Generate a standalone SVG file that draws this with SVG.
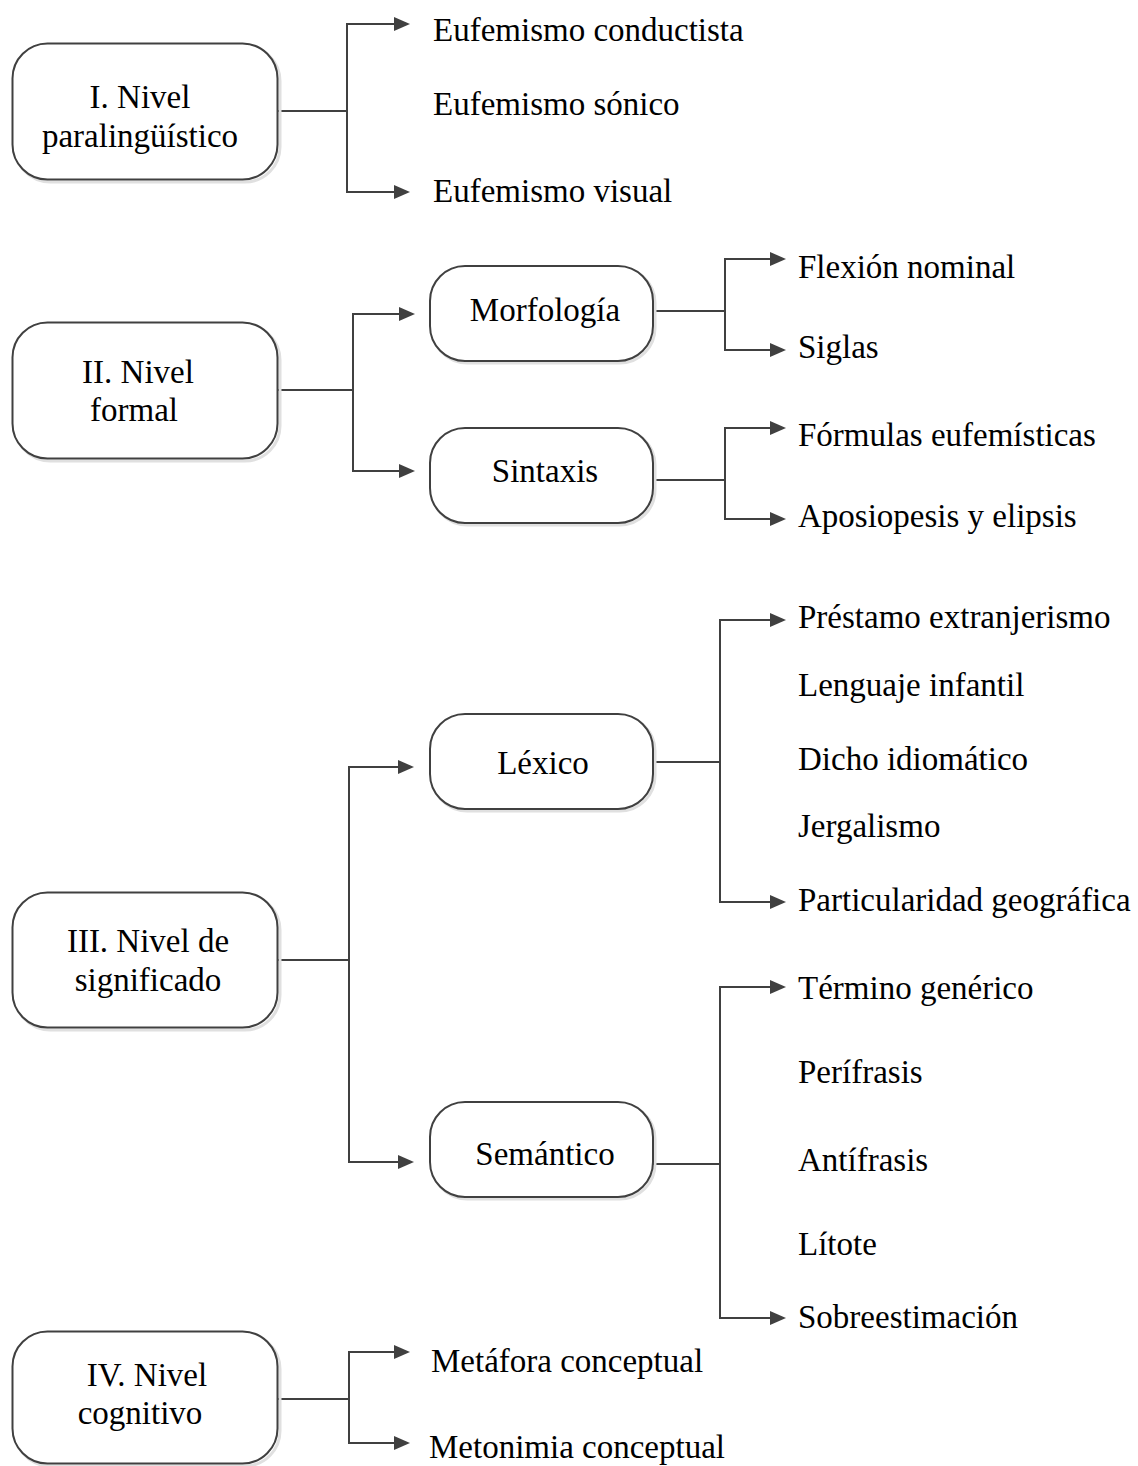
<svg xmlns="http://www.w3.org/2000/svg" width="1138" height="1466" viewBox="0 0 1138 1466">
  <style>
    .box { fill: #ffffff; stroke: #404040; stroke-width: 2; }
    .shadow { fill: none; stroke: #e0e0e0; stroke-width: 3; }
    .lbl { font-family: "Liberation Serif", "Times New Roman", serif; font-size: 33px; fill: #000000; }
    .mid { text-anchor: middle; }
    .wire { fill: none; stroke: #404040; stroke-width: 2; }
    .arrow { fill: none; stroke: #404040; stroke-width: 2; marker-end: url(#head); }
  </style>
  <defs>
    <marker id="head" viewBox="0 0 16 14" refX="8" refY="7" markerWidth="16" markerHeight="14" markerUnits="userSpaceOnUse" orient="auto">
      <path d="M0,0 L16,7 L0,14 z" fill="#404040"/>
    </marker>
  </defs>
  <rect width="1138" height="1466" fill="#ffffff"/>

  <!-- connectors -->
  <g id="connectors">
    <!-- I -->
    <path class="wire" d="M277,111 H347 M347,24 V192"/>
    <path class="arrow" d="M346,24 H402"/>
    <path class="arrow" d="M346,192 H402"/>
    <!-- II -->
    <path class="wire" d="M277,390 H353 M353,314 V471"/>
    <path class="arrow" d="M352,314 H407"/>
    <path class="arrow" d="M352,471 H407"/>
    <!-- Morfología -->
    <path class="wire" d="M653,311 H725 M725,259 V350"/>
    <path class="arrow" d="M724,259 H778"/>
    <path class="arrow" d="M724,350 H778"/>
    <!-- Sintaxis -->
    <path class="wire" d="M653,480 H725 M725,428 V519"/>
    <path class="arrow" d="M724,428 H778"/>
    <path class="arrow" d="M724,519 H778"/>
    <!-- III -->
    <path class="wire" d="M277,960 H349 M349,767 V1162"/>
    <path class="arrow" d="M348,767 H406"/>
    <path class="arrow" d="M348,1162 H406"/>
    <!-- Léxico -->
    <path class="wire" d="M653,762 H720 M720,620 V902"/>
    <path class="arrow" d="M719,620 H778"/>
    <path class="arrow" d="M719,902 H778"/>
    <!-- Semántico -->
    <path class="wire" d="M653,1164 H720 M720,987 V1318"/>
    <path class="arrow" d="M719,987 H778"/>
    <path class="arrow" d="M719,1318 H778"/>
    <!-- IV -->
    <path class="wire" d="M277,1399 H349 M349,1352 V1443"/>
    <path class="arrow" d="M348,1352 H402"/>
    <path class="arrow" d="M348,1443 H402"/>
  </g>

  <!-- level nodes -->
  <g id="nivel-1">
    <rect class="shadow" x="15" y="46" width="265" height="136" rx="35"/>
    <rect class="box" x="12.5" y="43.5" width="265" height="136" rx="35"/>
    <text class="lbl mid" x="140" y="108">I. Nivel</text>
    <text class="lbl mid" x="140" y="147">paralingüístico</text>
  </g>
  <g id="nivel-2">
    <rect class="shadow" x="15" y="325" width="265" height="136" rx="35"/>
    <rect class="box" x="12.5" y="322.5" width="265" height="136" rx="35"/>
    <text class="lbl mid" x="138" y="383">II. Nivel</text>
    <text class="lbl mid" x="134" y="421">formal</text>
  </g>
  <g id="nivel-3">
    <rect class="shadow" x="15" y="895" width="265" height="135" rx="35"/>
    <rect class="box" x="12.5" y="892.5" width="265" height="135" rx="35"/>
    <text class="lbl mid" x="148" y="952">III. Nivel de</text>
    <text class="lbl mid" x="148" y="991">significado</text>
  </g>
  <g id="nivel-4">
    <rect class="shadow" x="15" y="1334" width="265" height="132" rx="35"/>
    <rect class="box" x="12.5" y="1331.5" width="265" height="132" rx="35"/>
    <text class="lbl mid" x="147" y="1386">IV. Nivel</text>
    <text class="lbl mid" x="140" y="1424">cognitivo</text>
  </g>

  <!-- sub-level nodes -->
  <g id="morfologia">
    <rect class="shadow" x="432" y="268" width="223" height="95" rx="35"/>
    <rect class="box" x="430" y="266" width="223" height="95" rx="35"/>
    <text class="lbl mid" x="545" y="321">Morfología</text>
  </g>
  <g id="sintaxis">
    <rect class="shadow" x="432" y="430" width="223" height="95" rx="35"/>
    <rect class="box" x="430" y="428" width="223" height="95" rx="35"/>
    <text class="lbl mid" x="545" y="482">Sintaxis</text>
  </g>
  <g id="lexico">
    <rect class="shadow" x="432" y="716" width="223" height="95" rx="35"/>
    <rect class="box" x="430" y="714" width="223" height="95" rx="35"/>
    <text class="lbl mid" x="543" y="774">Léxico</text>
  </g>
  <g id="semantico">
    <rect class="shadow" x="432" y="1104" width="223" height="95" rx="35"/>
    <rect class="box" x="430" y="1102" width="223" height="95" rx="35"/>
    <text class="lbl mid" x="545" y="1165">Semántico</text>
  </g>

  <!-- leaf labels -->
  <g id="paralinguistico-items">
    <text class="lbl" x="433" y="41">Eufemismo conductista</text>
    <text class="lbl" x="433" y="115">Eufemismo sónico</text>
    <text class="lbl" x="433" y="202">Eufemismo visual</text>
  </g>
  <g id="morfologia-items">
    <text class="lbl" x="798" y="278">Flexión nominal</text>
    <text class="lbl" x="798" y="358">Siglas</text>
  </g>
  <g id="sintaxis-items">
    <text class="lbl" x="798" y="446">Fórmulas eufemísticas</text>
    <text class="lbl" x="798" y="527">Aposiopesis y elipsis</text>
  </g>
  <g id="lexico-items">
    <text class="lbl" x="798" y="628">Préstamo extranjerismo</text>
    <text class="lbl" x="798" y="696">Lenguaje infantil</text>
    <text class="lbl" x="798" y="770">Dicho idiomático</text>
    <text class="lbl" x="798" y="837">Jergalismo</text>
    <text class="lbl" x="798" y="911">Particularidad geográfica</text>
  </g>
  <g id="semantico-items">
    <text class="lbl" x="798" y="999">Término genérico</text>
    <text class="lbl" x="798" y="1083">Perífrasis</text>
    <text class="lbl" x="798" y="1171">Antífrasis</text>
    <text class="lbl" x="798" y="1255">Lítote</text>
    <text class="lbl" x="798" y="1328">Sobreestimación</text>
  </g>
  <g id="cognitivo-items">
    <text class="lbl" x="431" y="1372">Metáfora conceptual</text>
    <text class="lbl" x="429" y="1458">Metonimia conceptual</text>
  </g>
</svg>
